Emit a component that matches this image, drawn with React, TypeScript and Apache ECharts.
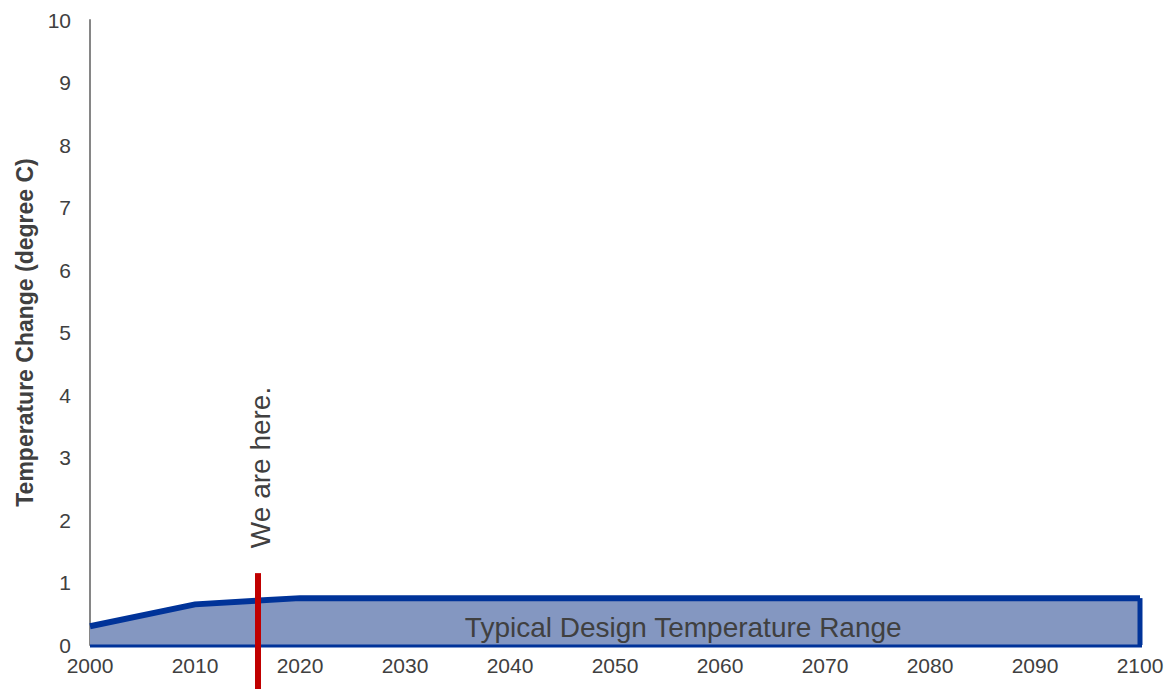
import React, { useEffect, useRef } from "react";
import * as echarts from "echarts";

const years = [2000, 2010, 2020, 2100];
const tempChange = [0.3, 0.65, 0.75, 0.75];
const nowYear = 2016;
const rangeLabel = "Typical Design Temperature Range";
const nowLabel = "We are here.";
const yTitle = "Temperature Change (degree C)";

const FONT = "Liberation Sans, Arial, sans-serif";
const TXT = "#404040";

export default function App() {
  const ref = useRef<HTMLDivElement>(null);
  useEffect(() => {
    if (!ref.current) return;
    const chart = echarts.init(ref.current, null, { renderer: "svg" });
    chart.setOption({
      animation: false,
      backgroundColor: "#ffffff",
      grid: { left: 90, right: 27, top: 20, bottom: 44 },
      xAxis: {
        type: "value",
        min: 2000,
        max: 2100,
        interval: 10,
        axisLine: { show: false },
        axisTick: { show: false },
        splitLine: { show: false },
        axisLabel: {
          fontSize: 21,
          color: TXT,
          fontFamily: FONT,
          margin: 10,
          formatter: (v: number) => String(v),
        },
      },
      yAxis: {
        type: "value",
        min: 0,
        max: 10,
        interval: 1,
        name: yTitle,
        nameLocation: "middle",
        nameGap: 54,
        nameTextStyle: { fontSize: 23, fontWeight: "bold", color: TXT, fontFamily: FONT },
        axisLine: { show: true, lineStyle: { color: "#868686", width: 2 } },
        axisTick: { show: false },
        splitLine: { show: false },
        axisLabel: { fontSize: 21, color: TXT, fontFamily: FONT, margin: 19 },
      },
      series: [
        {
          type: "custom",
          clip: false,
          data: [0],
          renderItem: (params: any, api: any) => {
            const top = years.map((y, i) => api.coord([y, tempChange[i]]));
            const b0 = api.coord([years[0], 0]);
            const b1 = api.coord([years[years.length - 1], 0]);
            const poly = [b0, ...top, b1];
            const rTop = api.coord([nowYear, 1.15]);
            const rBot = api.coord([nowYear, -0.75]);
            const labelPos = api.coord([2056.5, 0.28]);
            const nowPos = api.coord([nowYear + 0.2, 1.55]);
            return {
              type: "group",
              children: [
                {
                  type: "polygon",
                  shape: { points: poly },
                  style: { fill: "#8497c1" },
                },
                {
                  type: "polyline",
                  shape: { points: top },
                  style: { stroke: "#003399", lineWidth: 6, fill: null, lineJoin: "miter" },
                },
                {
                  type: "polyline",
                  shape: { points: [top[top.length - 1], b1] },
                  style: { stroke: "#003399", lineWidth: 5, fill: null },
                },
                {
                  type: "polyline",
                  shape: { points: [[b0[0], b0[1] + 1], [b1[0] + 2, b1[1] + 1]] },
                  style: { stroke: "#003399", lineWidth: 3, fill: null },
                },
                {
                  type: "text",
                  x: labelPos[0],
                  y: labelPos[1],
                  style: {
                    text: rangeLabel,
                    fontSize: 28,
                    fontFamily: FONT,
                    fill: TXT,
                    align: "center",
                    verticalAlign: "middle",
                  },
                },
                {
                  type: "line",
                  shape: { x1: rTop[0], y1: rTop[1], x2: rBot[0], y2: rBot[1] },
                  style: { stroke: "#c00000", lineWidth: 6 },
                },
                {
                  type: "text",
                  x: nowPos[0],
                  y: nowPos[1],
                  rotation: Math.PI / 2,
                  style: {
                    text: nowLabel,
                    fontSize: 28,
                    fontFamily: FONT,
                    fill: TXT,
                    align: "left",
                    verticalAlign: "middle",
                  },
                },
              ],
            };
          },
        },
      ],
    });
    return () => chart.dispose();
  }, []);
  return (
    <div
      ref={ref}
      style={{ position: "fixed", left: 0, top: 0, width: 1167, height: 689 }}
    />
  );
}
